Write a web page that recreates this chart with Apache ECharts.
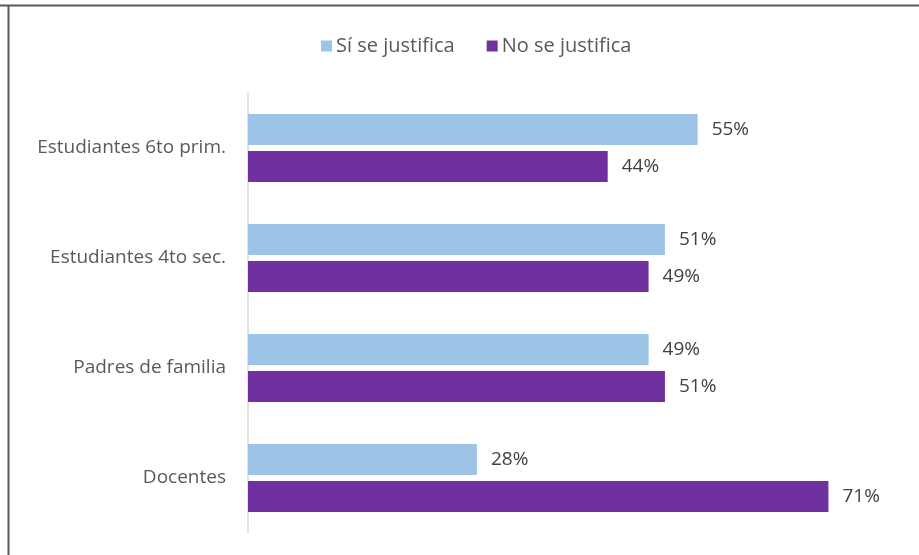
<!DOCTYPE html>
<html>
<head>
<meta charset="utf-8">
<script src="https://cdn.jsdelivr.net/npm/echarts@6/dist/echarts.min.js"></script>
<style>
html,body{margin:0;padding:0;background:#fff;}
#chart{width:919px;height:555px;}
</style>
</head>
<body>
<div id="chart"></div>
<script>
const categories = ["Estudiantes 6to prim.", "Estudiantes 4to sec.", "Padres de familia", "Docentes"];
const siSeJustifica = [55, 51, 49, 28];
const noSeJustifica = [44, 49, 51, 71];
const seriesNames = ["Sí se justifica", "No se justifica"];

const chart = echarts.init(document.getElementById('chart'));
const labelStyle = {
  show: true, position: 'right', distance: 14,
  formatter: p => p.value + '%',
  color: '#404040', fontSize: 19, fontFamily: 'Open Sans, sans-serif'
};
chart.setOption({
  animation: false,
  legend: {
    data: seriesNames,
    top: 31, left: 316,
    itemWidth: 11, itemHeight: 11, itemGap: 32,
    icon: 'rect',
    textStyle: { color: '#595959', fontSize: 20, fontFamily: 'Open Sans, sans-serif', padding: [0, 0, 0, -1] }
  },
  grid: { left: 248, top: 93, width: 654, height: 440, containLabel: false },
  xAxis: {
    type: 'value', min: 0, max: 80, show: false
  },
  yAxis: {
    type: 'category', data: categories, inverse: true,
    axisLine: { show: true, lineStyle: { color: '#D9D9D9', width: 1.5 } },
    axisTick: { show: false },
    axisLabel: { color: '#595959', fontSize: 19, margin: 22, fontFamily: 'Open Sans, sans-serif' }
  },
  series: [
    { name: seriesNames[0], type: 'bar', data: siSeJustifica, barWidth: 31, barGap: '20%',
      itemStyle: { color: '#9DC3E6' }, label: labelStyle },
    { name: seriesNames[1], type: 'bar', data: noSeJustifica, barWidth: 31, barGap: '20%',
      itemStyle: { color: '#7030A0' }, label: labelStyle }
  ],
  graphic: [
    { type: 'line', shape: { x1: 0, y1: 5.5, x2: 919, y2: 5.5 }, style: { stroke: '#595959', lineWidth: 2 } },
    { type: 'line', shape: { x1: 8.5, y1: 5, x2: 8.5, y2: 555 }, style: { stroke: '#595959', lineWidth: 2 } }
  ]
});
</script>
</body>
</html>
